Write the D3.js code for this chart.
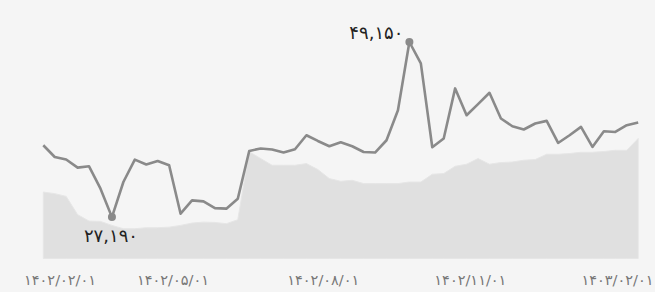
<!DOCTYPE html>
<html>
<head>
<meta charset="utf-8">
<script src="https://cdn.jsdelivr.net/npm/d3@7"></script>
<style>
  html, body { margin: 0; padding: 0; background: #f5f5f5; }
  svg { display: block; }
</style>
</head>
<body>
<div id="chart"></div>
<script>
// ---- data ----
const startDate = "2023-05-05";   // first weekly observation
const weekCount = 53;
const priceValues = [
  36200, 34730, 34410, 33400, 33560, 30760, 27190, 31590, 34400, 33780,
  34230, 33690, 27620, 29290, 29160, 28320, 28250, 29500, 35490, 35790,
  35660, 35290, 35700, 37460, 36740, 36080, 36580, 36080, 35360, 35290,
  36830, 40600, 49150, 46470, 35950, 37050, 43330, 39970, 41360, 42780,
  39560, 38590, 38180, 38930, 39260, 36490, 37460, 38500, 35990, 37960,
  37870, 38720, 39060
];
const baseValues = [
  30330, 30130, 29790, 27500, 26690, 26650, 26150, 25730, 25730, 25860,
  25860, 25930, 26150, 26440, 26560, 26520, 26360, 26860, 35390, 34530,
  33690, 33690, 33690, 33900, 33150, 32020, 31680, 31800, 31390, 31390,
  31390, 31390, 31590, 31590, 32560, 32650, 33560, 33820, 34530, 33820,
  34030, 34100, 34320, 34410, 35070, 35070, 35160, 35320, 35320, 35410,
  35570, 35570, 37050
];
const tickDates = ["2023-04-21", "2023-07-23", "2023-10-23", "2024-01-21", "2024-04-20"];
const tickLabels = ["۱۴۰۲/۰۲/۰۱", "۱۴۰۲/۰۵/۰۱", "۱۴۰۲/۰۸/۰۱", "۱۴۰۲/۱۱/۰۱", "۱۴۰۳/۰۲/۰۱"];
const yDomain = [22000, 49150];

// ---- layout ----
const W = 655, H = 292;
const margin = { left: 43.3, right: 16.8, top: 42, bottom: 33.5 };
const parse = d3.utcParse("%Y-%m-%d");
const t0 = parse(startDate);
const dates = d3.range(weekCount).map(i => d3.utcDay.offset(t0, 7 * i));

const x = d3.scaleUtc()
  .domain([dates[0], dates[dates.length - 1]])
  .range([margin.left, W - margin.right]);
const y = d3.scaleLinear()
  .domain(yDomain)
  .range([H - margin.bottom, margin.top]);

const fmt = d => d.toLocaleString("en-US").replace(/\d/g, c => "۰۱۲۳۴۵۶۷۸۹"[c]);

const svg = d3.select("#chart").append("svg")
  .attr("width", W).attr("height", H);

svg.append("rect").attr("width", W).attr("height", H).attr("fill", "#f5f5f5");

const font = "'DejaVu Sans', sans-serif";

// area (lower series)
const area = d3.area()
  .x((d, i) => x(dates[i]))
  .y0(y(yDomain[0]))
  .y1(d => y(d));
svg.append("path")
  .datum(baseValues)
  .attr("d", area)
  .attr("fill", "#e0e0e0")
  .attr("stroke", "#e6e6e6")
  .attr("stroke-width", 1);

// line
const line = d3.line()
  .x((d, i) => x(dates[i]))
  .y(d => y(d));
svg.append("path")
  .datum(priceValues)
  .attr("d", line)
  .attr("fill", "none")
  .attr("stroke", "#8a8a8a")
  .attr("stroke-width", 2.6)
  .attr("stroke-linejoin", "round");

// extreme markers
const maxI = d3.maxIndex(priceValues);
const minI = d3.minIndex(priceValues);
[maxI, minI].forEach(i => {
  svg.append("circle")
    .attr("cx", x(dates[i])).attr("cy", y(priceValues[i]))
    .attr("r", 4).attr("fill", "#8a8a8a");
});
svg.append("text")
  .attr("x", x(dates[maxI]) - 6)
  .attr("y", y(priceValues[maxI]) - 3)
  .attr("text-anchor", "end")
  .attr("font-family", font).attr("font-size", 18)
  .attr("fill", "#222")
  .text(fmt(priceValues[maxI]));
svg.append("text")
  .attr("x", x(dates[minI]) - 1)
  .attr("y", y(priceValues[minI]) + 25)
  .attr("text-anchor", "middle")
  .attr("font-family", font).attr("font-size", 18)
  .attr("fill", "#222")
  .text(fmt(priceValues[minI]));

// x axis
const xAxis = d3.axisBottom(x)
  .tickValues(tickDates.map(parse))
  .tickFormat((d, i) => tickLabels[i])
  .tickSize(0)
  .tickPadding(16);
const gx = svg.append("g")
  .attr("transform", `translate(0,${H - margin.bottom})`)
  .call(xAxis);
gx.select(".domain").remove();
gx.selectAll("text")
  .attr("font-family", font)
  .attr("font-size", 14.5)
  .attr("fill", "#777");
// keep labels inside the left edge
const minLeft = 24;
gx.selectAll(".tick").each(function () {
  const t = d3.select(this).select("text");
  const tx = +d3.select(this).attr("transform").match(/translate\(([-\d.]+)/)[1];
  const w = t.node().getComputedTextLength();
  if (tx - w / 2 < minLeft) t.attr("text-anchor", "start").attr("x", minLeft - tx);
});
</script>
</body>
</html>
